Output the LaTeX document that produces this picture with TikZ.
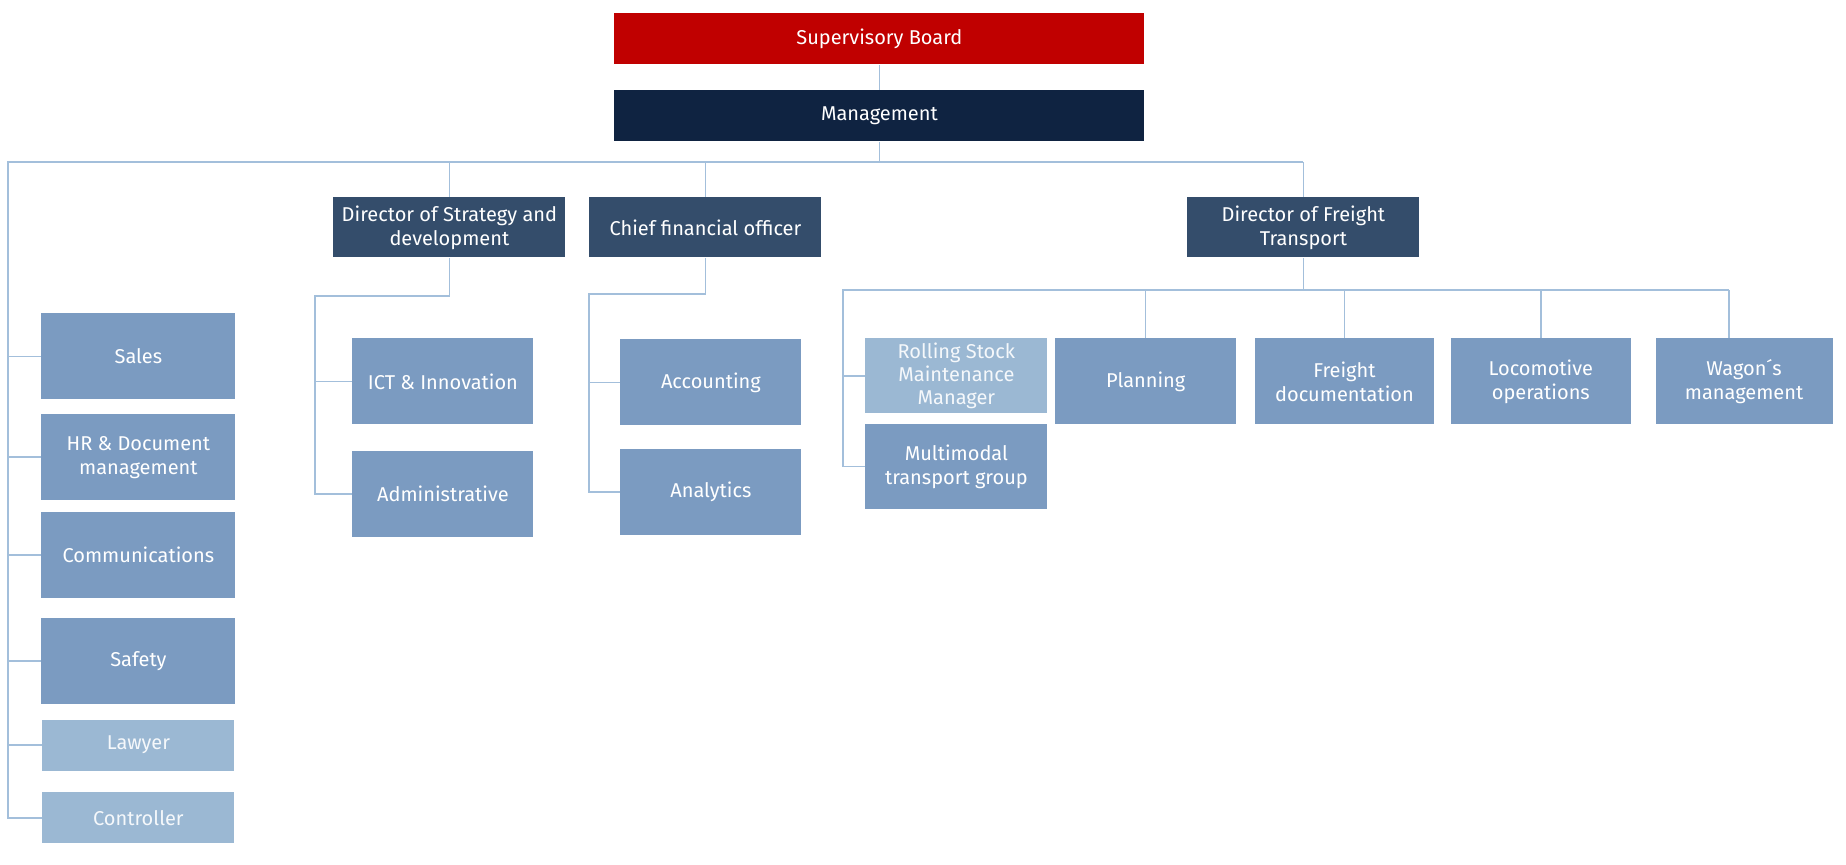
\documentclass[tikz,border=0pt]{standalone}
\usepackage{fontspec}
\setmainfont{Fira Sans}
\usepackage{xcolor}
\usetikzlibrary{positioning}

\definecolor{boardred}{HTML}{C00000}
\definecolor{mgmtnavy}{HTML}{0F2341}
\definecolor{dirblue}{HTML}{344D6B}
\definecolor{unitblue}{HTML}{7B9BC1}
\definecolor{staffblue}{HTML}{9BB8D3}
\definecolor{linkblue}{HTML}{A3BFDB}

\begin{document}
\begin{tikzpicture}[
            x=0.5pt, y=-0.5pt,
            node distance=0pt,
            box/.style={rectangle, anchor=north west, align=center, inner sep=2pt, text=white, font=\fontsize{10}{12}\selectfont},
            head/.style={box, minimum width=265pt, minimum height=25.5pt},
            director/.style={box, fill=dirblue, minimum width=116pt, minimum height=30pt},
            unit/.style={box, fill=unitblue, minimum width=90.5pt, minimum height=43pt},
            staff/.style={box, fill=staffblue, text=white!90!staffblue, minimum width=96pt, minimum height=25.5pt},
            link/.style={draw=linkblue, line width=0.75pt},
        ]
            \useasboundingbox (0,0) rectangle (1846,864);

            % ====== Board and management ======
            \node[head, fill=boardred] (board) at (614,13) {Supervisory Board};
            \node[head, fill=mgmtnavy, below=12.5pt of board] (mgmt) {Management};

            % ====== Directors ======
            \node[director] (strat) at (333,197) {Director of Strategy and\\development};
            \node[director] (cfo) at (589,197) {Chief financial officer};
            \node[director] (freight) at (1187,197) {Director of Freight\\Transport};

            % ====== Staff column ======
            \node[unit, minimum width=97pt] (sales) at (41,313) {Sales};
            \node[unit, minimum width=97pt, below=7pt of sales] (hr) {HR \& Document\\management};
            \node[unit, minimum width=97pt, below=5.5pt of hr] (comms) {Communications};
            \node[unit, minimum width=97pt, below=9.5pt of comms] (safety) {Safety};
            \node[staff, below=7.5pt of safety] (lawyer) {Lawyer};
            \node[staff, below=10.5pt of lawyer] (ctrl) {Controller};

            % ====== Strategy and finance ======
            \node[unit] (ict) at (352,338) {ICT \& Innovation};
            \node[unit, below=13pt of ict] (admin) {Administrative};
            \node[unit] (acct) at (620,339) {Accounting};
            \node[unit, below=11.5pt of acct] (analytics) {Analytics};

            % ====== Freight transport ======
            \node[
                staff,
                minimum width=91pt,
                minimum height=37.5pt,
                inner sep=0pt,
                font=\fontsize{10}{11.5}\selectfont
            ] (rsm) at (865,338) {Rolling Stock\\Maintenance\\Manager};
            \node[unit, minimum width=91pt, minimum height=42.5pt, below=5pt of rsm]
                (multi) {Multimodal\\transport group};
            \node[unit, right=3.5pt of rsm.north east, anchor=north west] (plan) {Planning};
            \node[unit, minimum width=89.5pt, right=9pt of plan] (fdoc) {Freight\\documentation};
            \node[unit, minimum width=90pt, right=8pt of fdoc] (loco) {Locomotive\\operations};
            \node[unit, minimum width=88.5pt, right=12pt of loco] (wagon) {Wagon´s\\management};

            % ====== Connectors ======
            \coordinate (spine) at (8,162);
            \draw[link] (board) -- (mgmt);
            \draw[link] (mgmt.south) |- (spine);
            \draw[link] (spine -| freight.north) -- (spine) -- (spine |- ctrl.west) -- (ctrl.west);
            \foreach \n in {strat,cfo,freight}
                \draw[link] (spine -| \n.north) -- (\n.north);
            \foreach \n in {sales,hr,comms,safety,lawyer}
                \draw[link] (spine |- \n.west) -- (\n.west);

            \coordinate (stratbar) at (315,296);
            \draw[link] (strat.south) |- (stratbar) |- (admin.west);
            \draw[link] (stratbar |- ict.west) -- (ict.west);

            \coordinate (cfobar) at (589,294);
            \draw[link] (cfo.south) |- (cfobar) |- (analytics.west);
            \draw[link] (cfobar |- acct.west) -- (acct.west);

            \coordinate (fbarL) at (843,290);
            \coordinate (fbarR) at (1729,290);
            \draw[link] (freight.south) -- (freight.south |- fbarL);
            \draw[link] (fbarR) -- (fbarL) |- (multi.west);
            \draw[link] (fbarL |- rsm.west) -- (rsm.west);
            \foreach \n in {plan,fdoc,loco}
                \draw[link] (fbarL -| \n.north) -- (\n.north);
            \draw[link] (fbarR) -- (fbarR |- wagon.north);
        \end{tikzpicture}
\end{document}
